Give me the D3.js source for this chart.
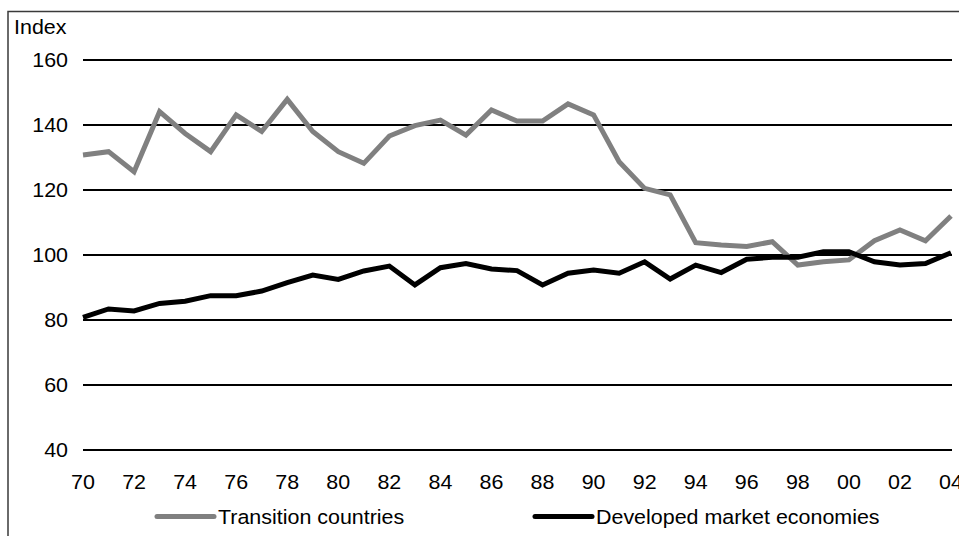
<!DOCTYPE html>
<html>
<head>
<meta charset="utf-8">
<script src="https://cdn.jsdelivr.net/npm/d3@7"></script>
<style>
  html, body { margin: 0; padding: 0; background: #fff; }
  svg { display: block; }
  text { font-family: "Liberation Sans", Arial, sans-serif; fill: #000; }
</style>
</head>
<body>
<svg id="chart" width="959" height="536"></svg>
<script>
// Years 1970–2004
const years = d3.range(1970, 2005);

// Index values per year
const transition = [
  130.8, 131.8, 125.6, 144.1, 137.4, 131.8, 143.1, 138.0, 147.9, 138.0,
  131.8, 128.2, 136.6, 139.8, 141.5, 136.9, 144.6, 141.2, 141.2, 146.5,
  143.1, 128.7, 120.5, 118.5, 103.8, 103.1, 102.6, 104.1, 96.9, 97.9,
  98.5, 104.4, 107.7, 104.4, 112.0
];
const developed = [
  80.8, 83.4, 82.8, 85.1, 85.8, 87.5, 87.5, 88.9, 91.5, 93.8,
  92.5, 95.1, 96.6, 90.8, 96.1, 97.4, 95.7, 95.2, 90.8, 94.4,
  95.4, 94.4, 97.9, 92.6, 96.9, 94.6, 98.7, 99.3, 99.3, 101.0,
  101.0, 97.9, 96.9, 97.4, 100.7
];

const yTicks = [40, 60, 80, 100, 120, 140, 160];
const xTickYears = d3.range(1970, 2005, 2);
const seriesNames = ["Transition countries", "Developed market economies"];

const FONT = 19.5, SX = 1.1;

const svg = d3.select("#chart");

const x = d3.scaleLinear().domain([1970, 2004]).range([83, 951]);
const y = d3.scaleLinear().domain([40, 160]).range([450, 60]);

// outer frame (top and left edges)
svg.append("path")
  .attr("d", "M8,536 V11.5 H959")
  .attr("fill", "none")
  .attr("stroke", "#3a3a3a")
  .attr("stroke-width", 1.5);

// horizontal grid lines
svg.append("g")
  .selectAll("line")
  .data(yTicks)
  .join("line")
  .attr("x1", 83)
  .attr("x2", 952)
  .attr("y1", d => y(d))
  .attr("y2", d => y(d))
  .attr("stroke", "#000")
  .attr("stroke-width", 2);

function label(g, tx, ty, str, anchor) {
  g.append("g")
    .attr("transform", `translate(${tx},${ty}) scale(${SX},1)`)
    .append("text")
    .attr("text-anchor", anchor)
    .attr("font-size", FONT)
    .text(str);
}

// y tick labels
const yl = svg.append("g");
yTicks.forEach(v => label(yl, 68, y(v) + 7, String(v), "end"));

// axis title
label(svg, 14, 34, "Index", "start");

// x tick labels (two-digit years)
const xl = svg.append("g");
xTickYears.forEach(yr => label(xl, x(yr), 488.5, String(yr % 100).padStart(2, "0"), "middle"));

// series lines
const line = d3.line()
  .x((d, i) => x(years[i]))
  .y(d => y(d));

svg.append("path")
  .datum(transition)
  .attr("fill", "none")
  .attr("stroke", "#808080")
  .attr("stroke-width", 5)
  .attr("stroke-linejoin", "miter")
  .attr("d", line);

svg.append("path")
  .datum(developed)
  .attr("fill", "none")
  .attr("stroke", "#000")
  .attr("stroke-width", 5)
  .attr("stroke-linejoin", "miter")
  .attr("d", line);

// legend
const legend = [
  { name: seriesNames[0], color: "#808080", x0: 157 },
  { name: seriesNames[1], color: "#000", x0: 535 }
];
const lg = svg.append("g");
legend.forEach(l => {
  lg.append("line")
    .attr("x1", l.x0).attr("x2", l.x0 + 57)
    .attr("y1", 516.5).attr("y2", 516.5)
    .attr("stroke", l.color)
    .attr("stroke-width", 5)
    .attr("stroke-linecap", "round");
  label(lg, l.x0 + 61, 523.5, l.name, "start");
});
</script>
</body>
</html>
